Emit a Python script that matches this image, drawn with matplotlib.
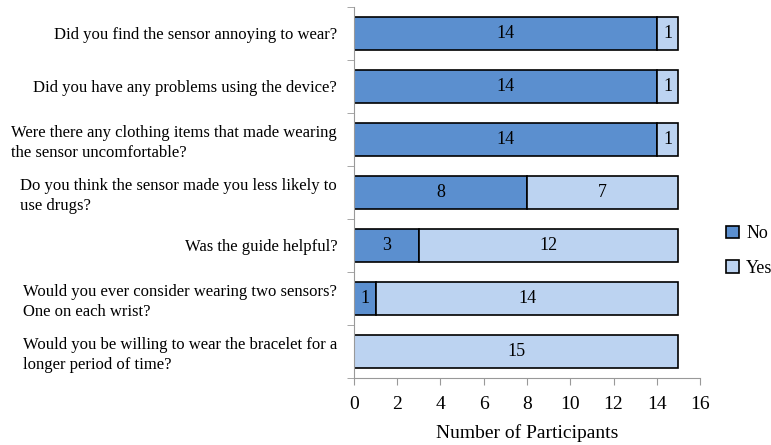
import numpy as np
import matplotlib
matplotlib.use('Agg')
import matplotlib.pyplot as plt

# Survey answers, top to bottom
questions = ['Did you find the sensor annoying to wear?',
             'Did you have any problems using the device?',
             'Were there any clothing items that made wearing\nthe sensor uncomfortable?',
             'Do you think the sensor made you less likely to\nuse drugs?',
             'Was the guide helpful?',
             'Would you ever consider wearing two sensors?\nOne on each wrist?',
             'Would you be willing to wear the bracelet for a\nlonger period of time?']
no_counts = [14, 14, 14, 8, 3, 1, 0]
yes_counts = [1, 1, 1, 7, 12, 14, 15]

plt.rcParams['font.family'] = ['Liberation Serif', 'DejaVu Serif']

fig = plt.figure(figsize=(7.71, 4.45), dpi=100)
ax = fig.add_axes([0.459, 0.1506, 0.449, 0.834])

y = np.arange(len(questions))
no_col = '#5b8fcf'
yes_col = '#bcd3f1'
ax.barh(y, no_counts, height=0.63, color=no_col, edgecolor='black', lw=1.2, label='No')
ax.barh(y, yes_counts, left=no_counts, height=0.63, color=yes_col, edgecolor='black', lw=1.2, label='Yes')

for i in range(len(questions)):
    if no_counts[i] > 0:
        ax.text(no_counts[i] / 2, y[i], str(no_counts[i]), ha='center', va='center', fontsize=13)
    if yes_counts[i] > 0:
        ax.text(no_counts[i] + yes_counts[i] / 2, y[i], str(yes_counts[i]), ha='center', va='center', fontsize=13)

ax.set_ylim(len(questions) - 0.5, -0.5)
ax.set_xlim(0, 16)
ax.set_xticks(range(0, 17, 2))
ax.set_yticks(y)
ax.set_yticklabels(questions, fontsize=12, multialignment='left', linespacing=1.3)
ax.set_yticks(np.arange(-0.5, len(questions), 1), minor=True)
ax.tick_params(axis='y', which='major', length=0, pad=12)
ax.tick_params(axis='y', which='minor', length=5, color='#999999')
ax.tick_params(axis='x', labelsize=14, length=5, color='#999999', pad=8)
ax.set_xlabel('Number of Participants', fontsize=14, labelpad=8)

for side in ['top', 'right']:
    ax.spines[side].set_visible(False)
ax.spines['left'].set_color('#999999')
ax.spines['bottom'].set_color('#999999')

fig.legend(loc='center left', bbox_to_anchor=(0.942, 0.436), frameon=False, fontsize=13,
           handlelength=0.7, handleheight=0.7, labelspacing=0.95, handletextpad=0.4,
           borderaxespad=0, borderpad=0)

fig.savefig('out.png', dpi=100)
